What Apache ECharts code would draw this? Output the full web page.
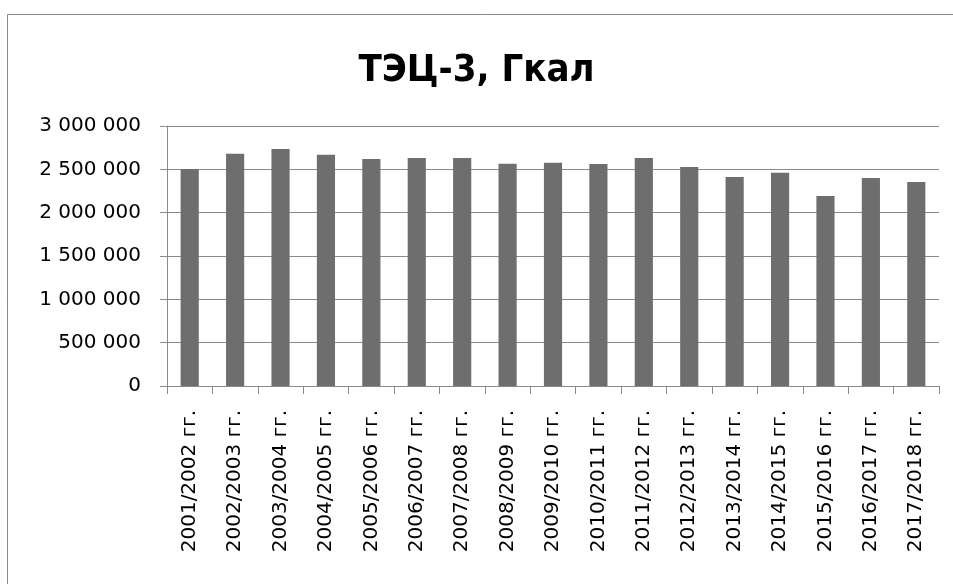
<!DOCTYPE html>
<html>
<head>
<meta charset="utf-8">
<script src="https://cdn.jsdelivr.net/npm/echarts@6/dist/echarts.min.js"></script>
<style>
html,body{margin:0;padding:0;background:#fff;overflow:hidden;}
#chart{width:953px;height:584px;}
</style>
</head>
<body>
<div id="chart"></div>
<script>
const titleText = 'ТЭЦ-3, Гкал';
const categories = ['2001/2002 гг.','2002/2003 гг.','2003/2004 гг.','2004/2005 гг.','2005/2006 гг.','2006/2007 гг.','2007/2008 гг.','2008/2009 гг.','2009/2010 гг.','2010/2011 гг.','2011/2012 гг.','2012/2013 гг.','2013/2014 гг.','2014/2015 гг.','2015/2016 гг.','2016/2017 гг.','2017/2018 гг.'];
const values = [2505000,2680000,2735000,2669000,2619000,2631000,2631000,2565000,2577000,2561000,2631000,2527000,2411000,2461000,2192000,2400000,2354000];
const yMin = 0, yMax = 3000000, yStep = 500000;

function fmt(v){
  return String(v).replace(/\B(?=(\d{3})+(?!\d))/g, ' ');
}

const chart = echarts.init(document.getElementById('chart'), null, {renderer:'canvas'});
chart.setOption({
  animation:false,
  backgroundColor:'#ffffff',
  graphic:[
    {type:'line',shape:{x1:7.5,y1:14.5,x2:953,y2:14.5},style:{stroke:'#8a8a8a',lineWidth:1},silent:true},
    {type:'line',shape:{x1:7.5,y1:14.5,x2:7.5,y2:584},style:{stroke:'#8a8a8a',lineWidth:1},silent:true}
  ],
  title:{
    text:titleText,
    left:'center',
    top:47,
    textStyle:{fontFamily:'"DejaVu Sans Condensed","DejaVu Sans",sans-serif',fontWeight:'bold',fontSize:38,color:'#000'}
  },
  grid:{left:167,right:14,top:126,bottom:198,containLabel:false},
  xAxis:{
    type:'category',
    data:categories,
    boundaryGap:true,
    axisLine:{lineStyle:{color:'#8a8a8a',width:1}},
    axisTick:{show:true,alignWithLabel:false,length:8,lineStyle:{color:'#8a8a8a'}},
    axisLabel:{rotate:90,interval:0,margin:24,color:'#000',fontFamily:'"DejaVu Sans",sans-serif',fontSize:20}
  },
  yAxis:{
    type:'value',
    min:yMin,max:yMax,interval:yStep,
    axisLine:{show:true,lineStyle:{color:'#8a8a8a',width:1}},
    axisTick:{show:true,length:7,lineStyle:{color:'#8a8a8a'}},
    splitLine:{show:true,lineStyle:{color:'#8a8a8a',width:1}},
    axisLabel:{margin:26,color:'#000',fontFamily:'"DejaVu Sans",sans-serif',fontSize:20,formatter:fmt}
  },
  series:[{
    type:'bar',
    data:values,
    barWidth:'40%',
    itemStyle:{color:'#6e6e6e'}
  }]
});
</script>
</body>
</html>
